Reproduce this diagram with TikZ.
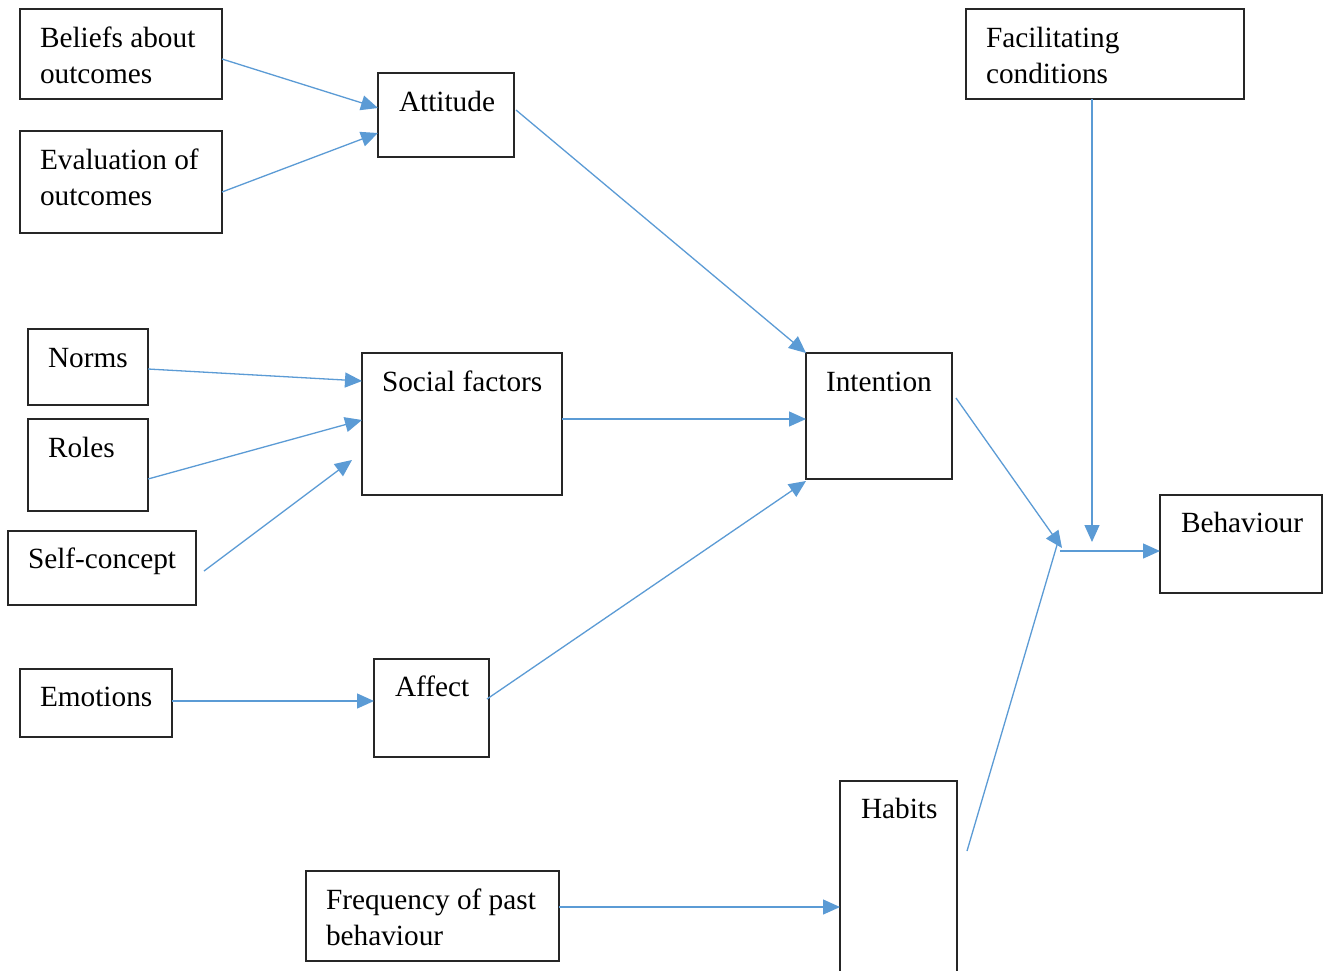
\documentclass[tikz,border=0pt]{standalone}
\usepackage{fontspec}
\setmainfont{Liberation Serif}
\usetikzlibrary{arrows.meta}
\definecolor{arrowblue}{HTML}{5B9BD5}
\definecolor{boxline}{HTML}{262626}
\begin{document}
\begin{tikzpicture}[x=1pt,y=-1pt,
  box/.style={draw=boxline,line width=1.4pt,rectangle,anchor=north west,inner sep=0pt,outer sep=0pt},
  txt/.style={anchor=base west,inner sep=0pt,outer sep=0pt,font=\fontsize{29.3}{36}\selectfont},
  conn/.style={draw=arrowblue,line width=1.3pt},
  arr/.style={conn,-{Triangle[length=17pt,width=15pt]}}]
\useasboundingbox[fill=white] (0,0) rectangle (1330,970);
\newcommand\tl[1]{\begin{tabular}[t]{@{}l@{}}#1\end{tabular}}
% boxes
\node[box,minimum width=202pt,minimum height=90pt] (beliefs) at (20,9) {};
\node[box,minimum width=202pt,minimum height=102pt] (evaluation) at (20,131) {};
\node[box,minimum width=136pt,minimum height=84pt] (attitude) at (378,73) {};
\node[box,minimum width=120pt,minimum height=76pt] (norms) at (28,329) {};
\node[box,minimum width=120pt,minimum height=92pt] (roles) at (28,419) {};
\node[box,minimum width=188pt,minimum height=74pt] (selfc) at (8,531) {};
\node[box,minimum width=200pt,minimum height=142pt] (social) at (362,353) {};
\node[box,minimum width=152pt,minimum height=68pt] (emotions) at (20,669) {};
\node[box,minimum width=115pt,minimum height=98pt] (affect) at (374,659) {};
\node[box,minimum width=253pt,minimum height=90pt] (freq) at (306,871) {};
\node[box,minimum width=117pt,minimum height=210pt] (habits) at (840,781) {};
\node[box,minimum width=146pt,minimum height=126pt] (intention) at (806,353) {};
\node[box,minimum width=278pt,minimum height=90pt] (facil) at (966,9) {};
\node[box,minimum width=162pt,minimum height=98pt] (behaviour) at (1160,495) {};
% texts
\node[txt] (beliefsT) at ([xshift=20pt,yshift=-38pt]beliefs.north west) {\tl{Beliefs about\\outcomes}};
\node[txt] (evaluationT) at ([xshift=20pt,yshift=-38pt]evaluation.north west) {\tl{Evaluation of\\outcomes}};
\node[txt] (attitudeT) at ([xshift=21pt,yshift=-38pt]attitude.north west) {Attitude};
\node[txt] (normsT) at ([xshift=20pt,yshift=-38pt]norms.north west) {Norms};
\node[txt] (rolesT) at ([xshift=20pt,yshift=-38pt]roles.north west) {Roles};
\node[txt] (selfcT) at ([xshift=20pt,yshift=-37pt]selfc.north west) {Self-concept};
\node[txt] (socialT) at ([xshift=20pt,yshift=-38pt]social.north west) {Social factors};
\node[txt] (emotionsT) at ([xshift=20pt,yshift=-37pt]emotions.north west) {Emotions};
\node[txt] (affectT) at ([xshift=21pt,yshift=-37pt]affect.north west) {Affect};
\node[txt] (freqT) at ([xshift=20pt,yshift=-38pt]freq.north west) {\tl{Frequency of past\\behaviour}};
\node[txt] (habitsT) at ([xshift=21pt,yshift=-37pt]habits.north west) {Habits};
\node[txt] (intentionT) at ([xshift=20pt,yshift=-38pt]intention.north west) {Intention};
\node[txt] (facilT) at ([xshift=20pt,yshift=-38pt]facil.north west) {\tl{Facilitating\\conditions}};
\node[txt] (behaviourT) at ([xshift=21pt,yshift=-37pt]behaviour.north west) {Behaviour};
% junction points
\coordinate (jin) at (1062,548);
\coordinate (jhab) at (1057,545);
\coordinate (jout) at (1060,551);
\coordinate (jtop) at (1092,542);
% connectors
\draw[arr] ([yshift=-50pt]beliefs.north east) -- ([yshift=-35pt]attitude.north west);
\draw[arr] ([yshift=-61pt]evaluation.north east) -- ([yshift=-60pt]attitude.north west);
\draw[arr] ([xshift=2pt,yshift=-37pt]attitude.north east) -- (intention.north west);
\draw[arr] ([yshift=-40pt]norms.north east) -- ([yshift=-28pt]social.north west);
\draw[arr] ([yshift=-60pt]roles.north east) -- ([yshift=-67pt]social.north west);
\draw[arr] ([xshift=8pt,yshift=-40pt]selfc.north east) -- ([xshift=-10pt,yshift=-107pt]social.north west);
\draw[arr] ([yshift=-66pt]social.north east) -- ([yshift=-66pt]intention.north west);
\draw[arr] ([yshift=-32pt]emotions.north east) -- ([yshift=-42pt]affect.north west);
\draw[arr] ([xshift=-2pt,yshift=-40pt]affect.north east) -- ([yshift=-2pt]intention.south west);
\draw[arr] ([yshift=-36pt]freq.north east) -- ([yshift=-126pt]habits.north west);
\draw[arr] ([xshift=4pt,yshift=-45pt]intention.north east) -- (jin);
\draw[conn] ([xshift=10pt,yshift=-70pt]habits.north east) -- (jhab);
\draw[arr] (jout) -- ([yshift=-56pt]behaviour.north west);
\draw[arr] ([xshift=-13pt]facil.south) -- (jtop);
\end{tikzpicture}
\end{document}
